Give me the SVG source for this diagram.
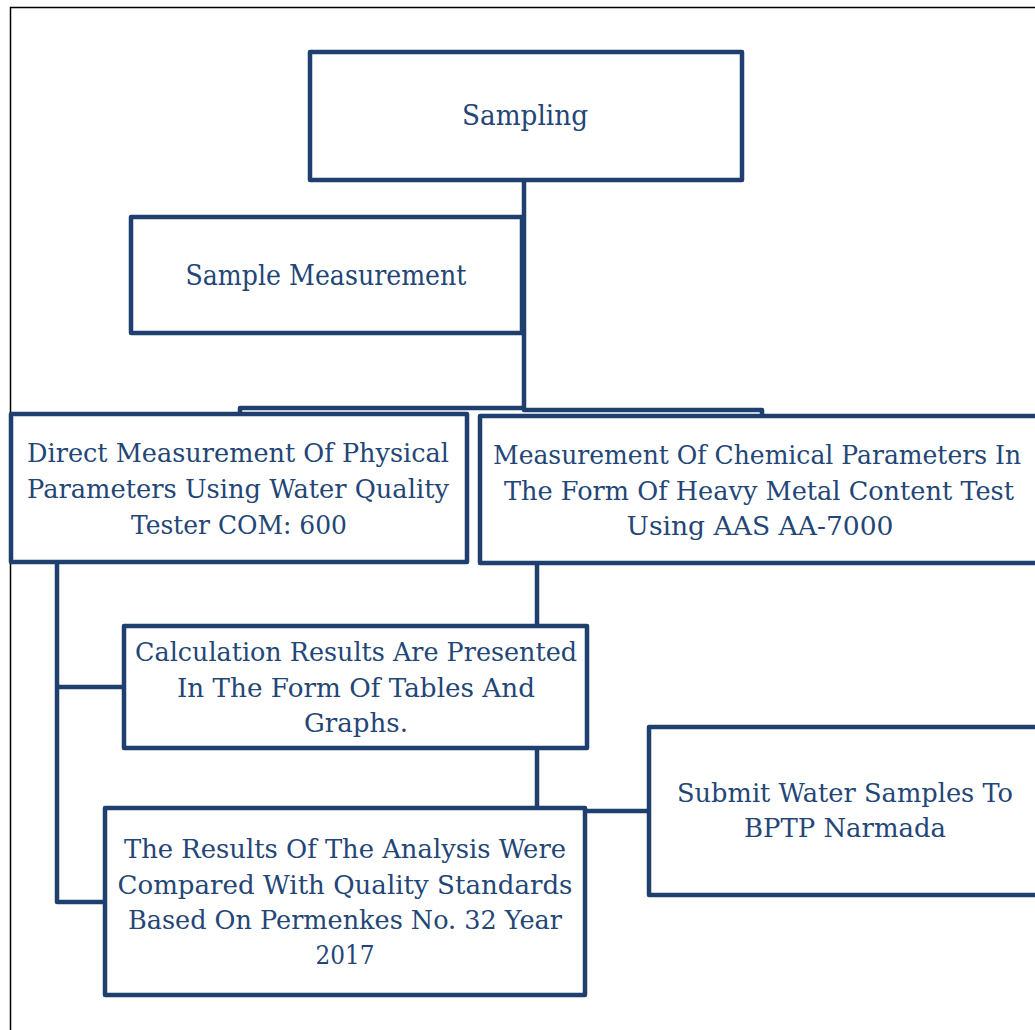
<svg xmlns="http://www.w3.org/2000/svg" width="1035" height="1030" viewBox="0 0 1035 1030">
<style>
.box{fill:#fff;stroke:#1f3f6e;stroke-width:4.5;stroke-linejoin:round}
.con{fill:none;stroke:#1f3f6e;stroke-width:4.5;stroke-linejoin:round}
text{font-family:"DejaVu Serif","Liberation Serif",serif;font-size:26px;fill:#234677;text-anchor:middle}
.big{font-size:27px}
</style>
<rect x="0" y="0" width="1035" height="1030" fill="#fff"/>
<rect x="10.5" y="7.5" width="1100" height="1100" fill="none" stroke="#000" stroke-width="1.5"/>
<g id="connectors">
<path class="con" d="M524 180 V408 H240 V414"/>
<path class="con" d="M524 408 V410 H762 V416"/>
<path class="con" d="M57 562 V902 H105"/>
<path class="con" d="M57 687 H124"/>
<path class="con" d="M537 563 V626"/>
<path class="con" d="M537 748 V808"/>
<path class="con" d="M585 811 H649"/>
</g>
<g id="sampling">
<rect class="box" x="310" y="52" width="432" height="128"/>
<text class="big" x="525" y="125" textLength="126" lengthAdjust="spacingAndGlyphs">Sampling</text>
</g>
<g id="sample-measurement">
<rect class="box" x="131" y="217" width="391" height="116"/>
<text class="big" x="326" y="285" textLength="281" lengthAdjust="spacingAndGlyphs">Sample Measurement</text>
</g>
<g id="direct-measurement">
<rect class="box" x="11" y="414" width="456" height="148"/>
<text x="238" y="462" textLength="422" lengthAdjust="spacingAndGlyphs">Direct Measurement Of Physical</text>
<text x="238" y="498" textLength="422" lengthAdjust="spacingAndGlyphs">Parameters Using Water Quality</text>
<text x="239" y="534" textLength="216" lengthAdjust="spacingAndGlyphs">Tester COM: 600</text>
</g>
<g id="chemical-measurement">
<rect class="box" x="480" y="416" width="600" height="147"/>
<text x="757" y="464" textLength="528" lengthAdjust="spacingAndGlyphs">Measurement Of Chemical Parameters In</text>
<text x="759" y="500" textLength="510" lengthAdjust="spacingAndGlyphs">The Form Of Heavy Metal Content Test</text>
<text x="760" y="535" textLength="267" lengthAdjust="spacingAndGlyphs">Using AAS AA-7000</text>
</g>
<g id="calculation-results">
<rect class="box" x="124" y="626" width="463" height="122"/>
<text x="356" y="661" textLength="442" lengthAdjust="spacingAndGlyphs">Calculation Results Are Presented</text>
<text x="356" y="697" textLength="358" lengthAdjust="spacingAndGlyphs">In The Form Of Tables And</text>
<text x="356" y="732" textLength="104" lengthAdjust="spacingAndGlyphs">Graphs.</text>
</g>
<g id="submit-samples">
<rect class="box" x="649" y="727" width="431" height="168"/>
<text x="845" y="802" textLength="336" lengthAdjust="spacingAndGlyphs">Submit Water Samples To</text>
<text x="845" y="837" textLength="202" lengthAdjust="spacingAndGlyphs">BPTP Narmada</text>
</g>
<g id="results-compared">
<rect class="box" x="105" y="808" width="480" height="187"/>
<text x="345" y="858" textLength="442" lengthAdjust="spacingAndGlyphs">The Results Of The Analysis Were</text>
<text x="345" y="894" textLength="455" lengthAdjust="spacingAndGlyphs">Compared With Quality Standards</text>
<text x="345" y="929" textLength="434" lengthAdjust="spacingAndGlyphs">Based On Permenkes No. 32 Year</text>
<text x="345" y="964" textLength="59" lengthAdjust="spacingAndGlyphs">2017</text>
</g>
</svg>
